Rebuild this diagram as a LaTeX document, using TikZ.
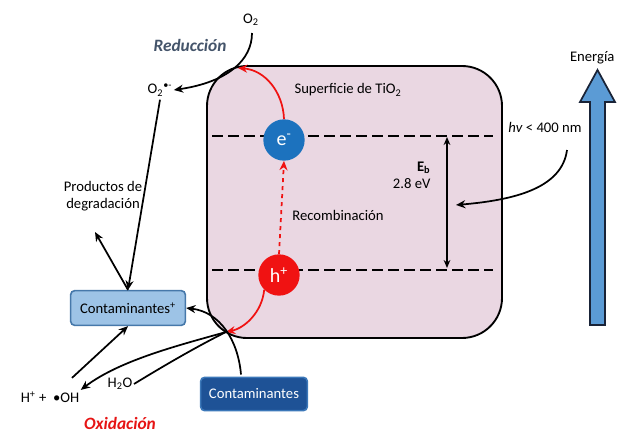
\documentclass[tikz,border=0pt]{standalone}
\usepackage{fontspec}
\setmainfont{Carlito}
\usepackage{tikz}
\usetikzlibrary{arrows.meta, positioning}
\definecolor{tiopink}{RGB}{234,215,226}
\definecolor{elblue}{RGB}{28,114,190}
\definecolor{hored}{RGB}{240,18,18}
\definecolor{contlight}{RGB}{157,195,230}
\definecolor{contedge}{RGB}{70,120,170}
\definecolor{contdark}{RGB}{30,82,150}
\definecolor{contdarkedge}{RGB}{60,120,185}
\definecolor{redtitle}{RGB}{68,84,106}
\definecolor{oxtitle}{RGB}{230,20,20}
\definecolor{energyblue}{RGB}{91,155,213}
\definecolor{energyedge}{RGB}{25,35,55}

\tikzset{
  txt/.style={font=\fontsize{11}{13}\selectfont, inner sep=1pt},
  title/.style={font=\fontsize{13}{15}\selectfont\bfseries\itshape, inner sep=1pt},
  carrier/.style={circle, minimum size=31pt, inner sep=0pt, text=white,
    font=\fontsize{15}{17}\selectfont},
  contbox/.style={rounded corners=3pt, line width=1.2pt, minimum width=86pt,
    minimum height=26pt, font=\fontsize{11}{13}\selectfont},
  conn/.style={draw=black, line width=1.3pt, -{Stealth[length=7pt,width=6pt]}},
  plainconn/.style={draw=black, line width=1.3pt},
  redconn/.style={draw=hored, line width=1.3pt, -{Stealth[length=7pt,width=6pt]}},
  band/.style={draw=black, line width=1.6pt, dash pattern=on 8pt off 4pt}
}

\begin{document}
\begin{tikzpicture}[x=0.75pt, y=-0.75pt]
  \useasboundingbox (0,0) rectangle (617,432);

  % TiO2 particle
  \draw[fill=tiopink, line width=1.4pt, rounded corners=30pt] (207,66) rectangle (502,338);
  \coordinate (surftop) at (238,68);
  \coordinate (surfbot) at (226,332);

  % bands
  \coordinate (cbL) at (212,136);
  \coordinate (cbR) at (493,136);
  \coordinate (vbL) at (212,270);
  \coordinate (vbR) at (493,270);
  \draw[band] (cbL) -- (cbR);
  \draw[band] (vbL) -- (vbR);

  \node[carrier, fill=elblue] (elec) at (284,140) {e\textsuperscript{-}};
  \node[carrier, fill=hored] (hole) at (279,275) {h\textsuperscript{+}};

  \node[txt] (surf) at (348,90) {Superficie de TiO\textsubscript{2}};
  \node[txt] (recomb) at (338,215) {Recombinación};
  \node[txt, align=right, anchor=east] (eb) at (432,175)
    {\textbf{E\textsubscript{b}}\\2.8 eV};

  % gap
  \coordinate (gaptop) at (447,137);
  \coordinate (gapbot) at (447,268);
  \coordinate (gapmid) at (456,205);
  \draw[line width=1.2pt, {Stealth[length=6pt,width=5pt]}-{Stealth[length=6pt,width=5pt]}]
    (gaptop) -- (gapbot);

  % light
  \node[txt] (light) at (545,127) {\textit{hv} < 400 nm};
  \coordinate (lightstart) at (567,150);
  \draw[conn] (lightstart) .. controls (562,188) and (515,200) .. (gapmid);

  % energy axis
  \node[txt, anchor=east] (energy) at (616,58) {Energía};
  \draw[fill=energyblue, draw=energyedge, line width=1.3pt]
    (590,325) -- (605,325) -- (605,102) -- (615,102) -- (597.5,70)
    -- (580,102) -- (590,102) -- cycle;

  % carriers
  \draw[redconn, dashed] (hole.north) -- (elec.south);
  \draw[redconn] (elec.north) .. controls (283,92) and (265,70) .. (surftop);
  \draw[redconn] (hole.south west) .. controls (262,312) and (245,328) .. (surfbot);

  % reduction
  \node[txt] (otwo) at (251,20) {O\textsubscript{2}};
  \node[txt] (superox) at (160,90) {O\textsubscript{2}\textsuperscript{\textbullet-}};
  \node[title, text=redtitle] (red) at (190,45) {Reducción};
  \draw[conn] (252,33) .. controls (252,60) and (228,82) .. (superox.east);

  % contaminants
  \node[contbox, fill=contlight, draw=contedge] (contplus) at (128,308)
    {Contaminantes\textsuperscript{+}};
  \node[contbox, fill=contdark, draw=contdarkedge, text=white, minimum width=80pt,
    minimum height=25pt] (cont) at (254,394) {Contaminantes};
  \node[txt, align=center] (prod) at (103,196) {Productos de\\degradación};
  \coordinate (prodend) at (95,232);
  \draw[conn] (superox.south) ++(0,2) -- (contplus.north);
  \draw[conn] (contplus.north) -- (prodend);
  \draw[conn] (cont.north) ++(-13,-2) .. controls (238,340) and (220,312) .. (contplus.east);

  % oxidation
  \node[txt] (water) at (120,384) {H\textsubscript{2}O};
  \node[txt] (radical) at (50,397) {H\textsuperscript{+} + \ \textbullet OH};
  \node[title, text=oxtitle] (ox) at (120,423) {Oxidación};
  \draw[plainconn] (water.east) .. controls (170,362) and (200,345) .. (surfbot);
  \draw[conn] (surfbot) .. controls (180,345) and (120,360) .. (radical.north east);
  \draw[conn] (radical.north) ++(22,-12) -- (contplus.south);
\end{tikzpicture}
\end{document}
